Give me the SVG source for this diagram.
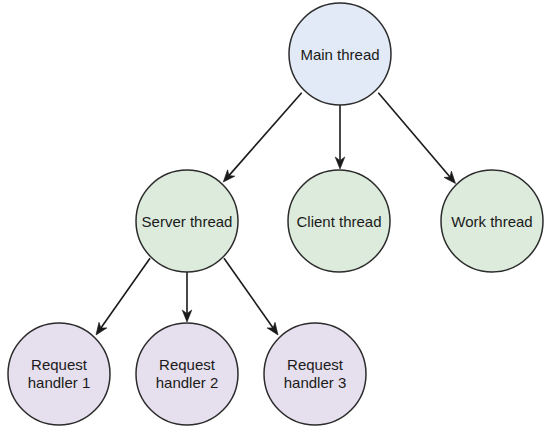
<svg xmlns="http://www.w3.org/2000/svg" width="550" height="431" viewBox="0 0 550 431">
<defs>
<marker id="arr" markerUnits="userSpaceOnUse" markerWidth="13" markerHeight="11" refX="3.5" refY="5" orient="auto" overflow="visible">
<path d="M12,5 L0,0.2 L3.5,5 L0,9.8 Z" fill="#1a1a1a" stroke="#1a1a1a" stroke-width="0.6" stroke-linejoin="miter"/>
</marker>
</defs>
<style>
.blue{fill:#e2eaf7;stroke:#2b2b2b;stroke-width:1.5}
.green{fill:#dcebdb;stroke:#2b2b2b;stroke-width:1.5}
.purple{fill:#e6dfee;stroke:#2b2b2b;stroke-width:1.5}
text{font-family:"Liberation Sans",Arial,sans-serif;font-size:15px;fill:#1a1a1a;text-anchor:middle}
.edge{stroke:#1a1a1a;stroke-width:1.6;fill:none;marker-end:url(#arr)}
</style>
<rect width="550" height="431" fill="#ffffff"/>
<g id="connectors">
<line class="edge" x1="301.7" y1="92.7" x2="228.9" y2="175.6"/>
<line class="edge" x1="340" y1="105" x2="340" y2="160.5"/>
<line class="edge" x1="378.3" y1="92.7" x2="450" y2="177"/>
<line class="edge" x1="150" y1="258.3" x2="100.9" y2="328"/>
<line class="edge" x1="187" y1="272" x2="187" y2="313.5"/>
<line class="edge" x1="224" y1="258.3" x2="273.1" y2="328"/>
</g>
<g id="main-thread">
<circle class="blue" cx="340" cy="54" r="51"/>
<text x="340" y="59.5">Main thread</text>
</g>
<g id="server-thread">
<circle class="green" cx="187" cy="221" r="51"/>
<text x="187" y="226.5">Server thread</text>
</g>
<g id="client-thread">
<circle class="green" cx="339" cy="221" r="51"/>
<text x="339" y="226.5">Client thread</text>
</g>
<g id="work-thread">
<circle class="green" cx="492" cy="221" r="51"/>
<text x="492" y="226.5">Work thread</text>
</g>
<g id="request-handler-1">
<circle class="purple" cx="59" cy="374" r="51"/>
<text x="59" y="370">Request</text>
<text x="59" y="388">handler 1</text>
</g>
<g id="request-handler-2">
<circle class="purple" cx="187" cy="374" r="51"/>
<text x="187" y="370">Request</text>
<text x="187" y="388">handler 2</text>
</g>
<g id="request-handler-3">
<circle class="purple" cx="315" cy="374" r="51"/>
<text x="315" y="370">Request</text>
<text x="315" y="388">handler 3</text>
</g>
</svg>
